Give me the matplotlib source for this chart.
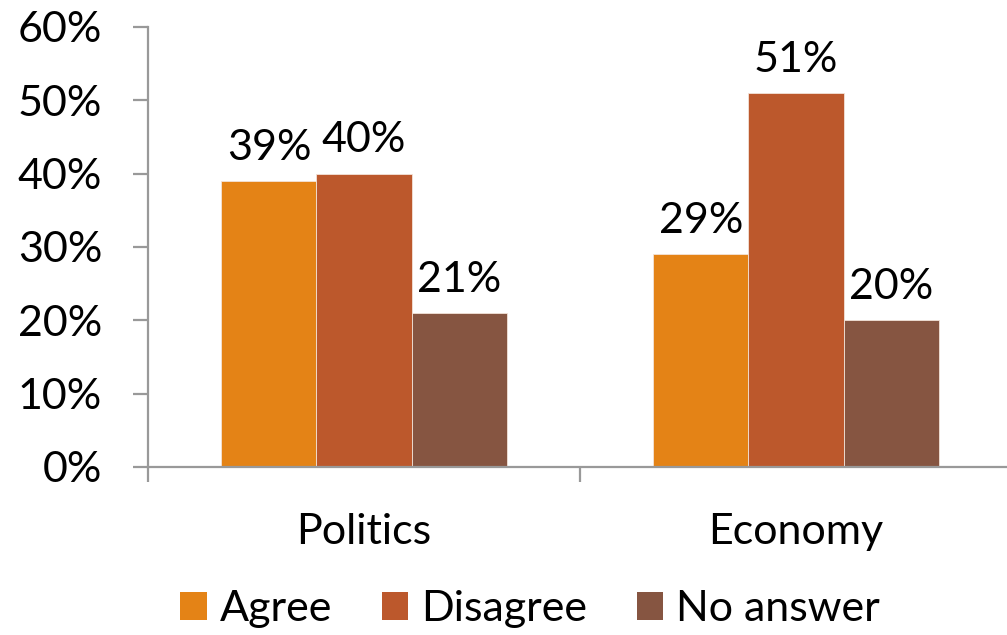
import matplotlib
matplotlib.use("Agg")
import matplotlib.pyplot as plt
from matplotlib.patches import Patch
import numpy as np

plt.rcParams['font.family'] = ['Lato', 'DejaVu Sans']

categories = ["Politics", "Economy"]
series_names = ["Agree", "Disagree", "No answer"]
agree = [39, 29]
disagree = [40, 51]
no_answer = [21, 20]
y_ticks = [0, 10, 20, 30, 40, 50, 60]
y_tick_labels = ["0%", "10%", "20%", "30%", "40%", "50%", "60%"]

colors = ["#E48316", "#BC582C", "#865541"]
axis_gray = "#999999"
fs = 31

W, H, DPI = 1007, 635, 100
fig = plt.figure(figsize=(W / DPI, H / DPI), dpi=DPI)
ax = fig.add_axes([148 / W, (H - 467) / H, (1012 - 148) / W, (467 - 27) / H])

x = np.arange(len(categories))
bw = 0.22
for i, (vals, c) in enumerate(zip([agree, disagree, no_answer], colors)):
    pos = x + (i - 1) * bw
    ax.bar(pos, vals, width=bw, color=c, edgecolor="#f3e3d8", linewidth=0.6,
           label=series_names[i], zorder=2)
    for p, v in zip(pos, vals):
        ax.text(p, v + 2.9, f"{v}%", ha="center", va="baseline", fontsize=fs, color="black")

ax.set_xlim(-0.5, 1.5)
ax.set_ylim(0, 60)
ax.set_yticks(y_ticks)
ax.set_yticklabels(y_tick_labels, fontsize=fs)

ax.set_xticks([-0.5, 0.5, 1.5])
ax.set_xticklabels([])
ax.set_xticks(x, minor=True)
ax.set_xticklabels(categories, minor=True, fontsize=fs)

for s in ["top", "right"]:
    ax.spines[s].set_visible(False)
for s in ["left", "bottom"]:
    ax.spines[s].set_color(axis_gray)
    ax.spines[s].set_linewidth(1.6)

ax.tick_params(axis="y", which="major", length=11, width=1.6, color=axis_gray, pad=22)
ax.tick_params(axis="x", which="major", length=11, width=1.6, color=axis_gray)
ax.tick_params(axis="x", which="minor", length=0, pad=33)

handles = [Patch(facecolor=c, edgecolor="none") for c in colors]
fig.legend(handles, series_names, loc="center", bbox_to_anchor=(530 / W, 1 - 609 / H),
           ncol=3, frameon=False, fontsize=fs, handlelength=0.62, handleheight=0.62,
           handletextpad=0.3, columnspacing=1.15, borderpad=0)

fig.savefig("out.png", dpi=DPI)
